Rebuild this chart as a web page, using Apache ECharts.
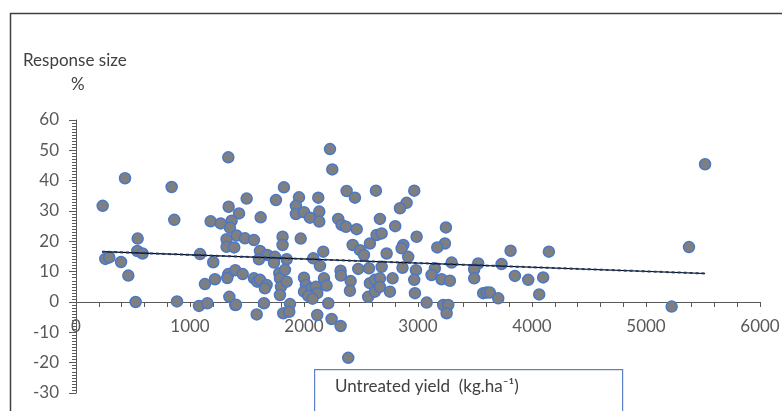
<!DOCTYPE html>
<html>
<head>
    <meta charset="utf-8">
    <title>Response size vs untreated yield</title>
    <script src="https://cdn.jsdelivr.net/npm/echarts@6/dist/echarts.min.js"></script>
    <style>
        html, body { margin: 0; padding: 0; background: #fff; }
        #main { width: 782px; height: 411px; }
    </style>
</head>
<body>
<div id="main"></div>
<script type="text/javascript">
    // untreated yield (kg/ha) and response size (%)
    var yieldVals = [234, 430, 839, 862, 541, 538, 584, 257, 292, 395, 459, 523, 886,
        1079, 1152, 1131, 1219, 1204, 1088, 1336, 1327, 1397, 1462, 1345, 1397, 1561, 1590, 1585,
        1336, 1497, 1339, 1430, 1181, 1269, 1365, 1350, 1321, 1409, 1482, 1561, 1321, 1388, 1620,
        1614, 1754, 1824, 1678, 1745, 1605, 1812, 1812, 1737, 1614, 1672, 1657, 1783, 1789, 1798,
        1789, 1403, 1649, 1818, 2228, 2248, 2374, 2447, 2631, 1956, 2125, 1929, 1929, 2000, 2052,
        2134, 2134, 2300, 2330, 2368, 2462, 2666, 1971, 2427, 2491, 2526, 2578, 2637, 2681, 2169,
        2081, 2140, 1848, 1833, 1848, 2000, 2017, 2000, 2067, 2105, 2116, 2037, 2075, 2175, 2198,
        2321, 2324, 2409, 2403, 2476, 2570, 2578, 2622, 2666, 2563, 2622, 2666, 2213, 1877, 1871,
        2116, 2242, 2321, 2388, 2967, 2900, 2842, 2800, 2988, 2725, 2871, 2856, 2914, 3245, 3236,
        3169, 3295, 3528, 2681, 2864, 2982, 3148, 3119, 3207, 3280, 3493, 3493, 2777, 2754, 2967,
        2973, 3076, 3221, 3265, 3251, 3572, 3733, 3812, 4148, 3850, 3967, 4098, 4063, 3602, 3631,
        3704, 5518, 5377, 5225];
    var responseVals = [31.7, 40.8, 37.9, 27.1, 20.9, 16.8, 16.0, 14.2, 14.7, 13.2, 8.7, 0, 0.2,
        -1.3, -0.4, 5.9, 7.5, 13.1, 15.8, 9.2, 7.9, 10.5, 9.2, 1.7, -1.0, 7.8, 6.7, -4.1,
        47.7, 34.1, 31.4, 29.2, 26.6, 25.9, 26.8, 24.5, 20.7, 21.9, 21.0, 20.4, 18.2, 18.0, 27.9,
        16.8, 33.6, 37.8, 15.5, 14.9, 14.1, 21.5, 18.8, 13.0, 7.3, 5.6, 4.5, 9.5, 7.8, 5.0,
        2.3, -0.9, -0.4, -3.7, 50.4, 43.7, 36.6, 34.4, 36.7, 34.5, 34.4, 31.7, 29.0, 29.6, 27.8,
        29.8, 26.5, 27.4, 25.4, 24.8, 24.0, 27.4, 20.9, 18.8, 17.1, 15.5, 19.3, 22.1, 22.6, 16.6,
        14.4, 11.9, 14.1, 10.6, 6.7, 8.0, 5.6, 3.4, 4.5, 5.0, 2.9, 2.0, 1.1, 7.8, 5.4,
        10.3, 8.7, 6.9, 3.7, 10.9, 11.1, 6.2, 7.3, 7.8, 1.7, 3.4, 5.0, -0.4, -0.7, -3.2,
        -4.3, -5.6, -7.9, -18.4, 36.7, 32.7, 30.9, 25.0, 21.5, 16.0, 18.8, 17.7, 14.9, 24.6, 19.3,
        18.0, 13.0, 12.7, 11.6, 11.3, 10.5, 11.1, 8.9, 7.5, 7.0, 10.8, 7.8, 7.8, 3.4, 7.3,
        2.9, -0.2, -1.0, -1.0, -3.7, 2.9, 12.5, 16.9, 16.6, 8.6, 7.3, 8.1, 2.5, 3.1, 3.1,
        1.2, 45.4, 18.1, -1.5];

    // linear trend line end points
    var trendX = [228, 5518];
    var trendY = [16.6, 9.4];

    var xTicks = [0, 6000, 1000];
    var yTicks = [-30, 60, 10];

    var points = [];
    for (var i = 0; i < yieldVals.length; i++) {
        points.push([yieldVals[i], responseVals[i]]);
    }
    var trend = [[trendX[0], trendY[0]], [trendX[1], trendY[1]]];

    var gridTop = 120, gridBottom = 18, chartH = 411;
    // distance from the bottom of the grid up to the zero line
    var zeroOffset = (chartH - gridTop - gridBottom) * (0 - yTicks[0]) / (yTicks[1] - yTicks[0]);

    var myChart = echarts.init(document.getElementById('main'));
    var labelFont = {color: '#595959', fontSize: 17, fontFamily: 'Lato'};
    myChart.setOption({
        animation: false,
        grid: {left: 76, right: 22, top: gridTop, bottom: gridBottom, containLabel: false, outerBoundsMode: 'none'},
        xAxis: {
            type: 'value', position: 'bottom', offset: -zeroOffset,
            min: xTicks[0], max: xTicks[1], interval: xTicks[2],
            axisLine: {onZero: false, lineStyle: {color: '#595959', width: 1}},
            axisTick: {show: true, length: 5, lineStyle: {color: '#595959'}},
            minorTick: {show: true, splitNumber: 5, length: 5, lineStyle: {color: '#595959'}},
            axisLabel: Object.assign({margin: 16, formatter: function (v) { return String(v); }}, labelFont),
            splitLine: {show: false}
        },
        yAxis: {
            type: 'value',
            min: yTicks[0], max: yTicks[1], interval: yTicks[2],
            axisLine: {show: true, onZero: false, lineStyle: {color: '#595959', width: 1}},
            axisTick: {show: true, length: 7, lineStyle: {color: '#595959'}},
            minorTick: {show: true, splitNumber: 10, length: 4, lineStyle: {color: '#595959'}},
            axisLabel: Object.assign({margin: 17}, labelFont),
            splitLine: {show: false}
        },
        graphic: [
            {type: 'rect', left: 8, top: 11, shape: {width: 800, height: 420},
                style: {fill: 'none', stroke: '#404040', lineWidth: 1.5}, silent: true},
            {type: 'text', left: 23, top: 52,
                style: {text: 'Response size', fill: '#404040', font: '17px Lato'}},
            {type: 'text', left: 71, top: 76,
                style: {text: '%', fill: '#404040', font: '17px Lato'}},
            {type: 'rect', left: 314, top: 369, shape: {width: 308, height: 60},
                style: {fill: '#fff', stroke: '#5b82c8', lineWidth: 1.2}},
            {type: 'text', left: 335, top: 378,
                style: {text: 'Untreated yield  (kg.ha\u207B\u00B9)', fill: '#404040', font: '17px Lato'}}
        ],
        series: [
            {
                name: 'points', type: 'scatter', data: points,
                symbolSize: 11,
                itemStyle: {color: '#7f7f7f', borderColor: '#4a78c8', borderWidth: 1.5, opacity: 1}
            },
            {
                name: 'trend', type: 'line', data: trend, symbol: 'none', z: 3,
                lineStyle: {color: '#000', width: 1.2}
            },
            {
                name: 'trend dash', type: 'line', data: trend, symbol: 'none', z: 4,
                lineStyle: {color: '#1f3864', width: 2, type: [3, 3]}
            }
        ]
    });
</script>
</body>
</html>
